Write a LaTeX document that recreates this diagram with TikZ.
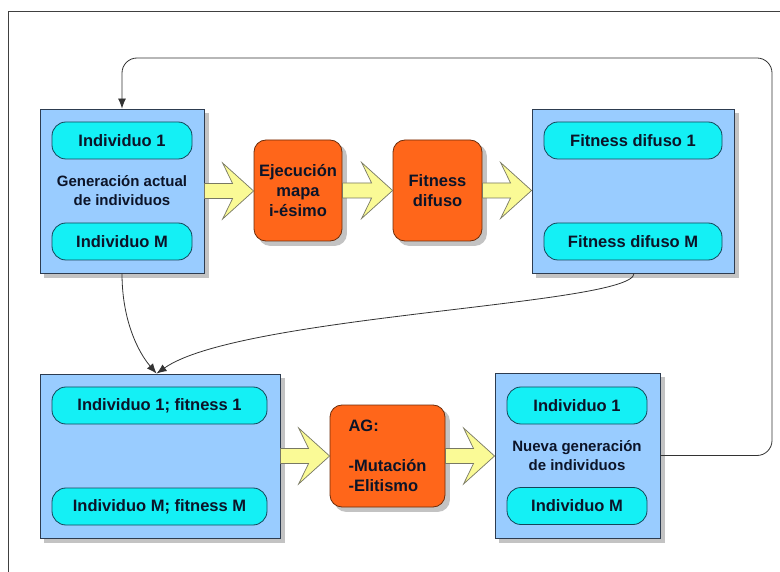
\documentclass[tikz,border=0pt]{standalone}
\usepackage{fontspec}
\setmainfont{Liberation Sans}
\usetikzlibrary{calc,arrows.meta,backgrounds}

\definecolor{boxblue}{RGB}{153,204,255}
\definecolor{boxedge}{RGB}{45,60,80}
\definecolor{pillcyan}{RGB}{20,240,245}
\definecolor{pilledge}{RGB}{20,70,90}
\definecolor{procorange}{RGB}{255,102,26}
\definecolor{procedge}{RGB}{110,45,10}
\definecolor{arrowyellow}{RGB}{250,250,150}
\definecolor{arrowedge}{RGB}{120,120,100}
\definecolor{inktext}{RGB}{12,20,40}
\definecolor{shadowgray}{RGB}{195,195,195}

\tikzset{
  x=1pt, y=-1pt,
  every node/.style={font=\fontsize{16.5}{20}\selectfont\bfseries, text=inktext},
  groupbox/.style={draw=boxedge, line width=0.9pt, fill=boxblue, inner sep=0pt},
  pill/.style={draw=pilledge, line width=0.8pt, fill=pillcyan, rounded corners=14pt,
    minimum height=37pt, inner sep=0pt},
  process/.style={draw=procedge, line width=0.8pt, fill=procorange, rounded corners=12pt,
    minimum width=88pt, minimum height=101pt, inner sep=0pt, align=center},
  grouplabel/.style={align=center, font=\fontsize{15}{19}\selectfont\bfseries},
  yarrow/.style={draw=arrowedge, line width=0.7pt, fill=arrowyellow, line join=miter},
  link/.style={draw=black!80, line width=0.8pt, -{Latex[length=10pt,width=8pt]}},
}

% block arrow from #1 to the tip #2 (same height)
\newcommand\yarr[2]{%
  \path[yarrow] let \p1=(#1), \p2=(#2) in
    (\x1,\y1+7.5pt) -- (\x2-21pt,\y1+7.5pt) -- (\x2-31pt,\y1+28pt) -- (\x2,\y1)
    -- (\x2-31pt,\y1-28pt) -- (\x2-21pt,\y1-7.5pt) -- (\x1,\y1-7.5pt) -- cycle;}

% grey drop shadow behind node #1, corner radius #2
\newcommand\shadowof[2]{%
  \fill[shadowgray, rounded corners=#2] ($(#1.north west)+(4.5,4.5)$) rectangle ($(#1.south east)+(4.5,4.5)$);}

\begin{document}
\begin{tikzpicture}
\useasboundingbox (0,0) rectangle (780,572);
\clip (0,0) rectangle (780,572);

% outer frame
\draw[black!75, line width=0.8pt] (8,11) rectangle (820,620);

% current generation
\node[groupbox, minimum width=164pt, minimum height=164pt] (A) at (122,191) {};
\node[pill, minimum width=140pt] (A1) at (122,140.5) {Individuo 1};
\node[pill, minimum width=140pt] (AM) at (122,241.5) {Individuo M};
\node[grouplabel] (Alab) at (122,191) {Generación actual\\de individuos};

% processing steps
\node[process] (E) at (298,190.5) {Ejecución\\mapa\\i-ésimo};
\node[process, minimum width=89pt] (F) at (437.5,190.5) {Fitness\\difuso};

% fuzzy fitness values
\node[groupbox, minimum width=202pt, minimum height=164pt] (B) at (633,191) {};
\node[pill, minimum width=178pt] (B1) at (633,140.5) {Fitness difuso 1};
\node[pill, minimum width=178pt] (BM) at (633,241.5) {Fitness difuso M};

% individuals with fitness
\node[groupbox, minimum width=240pt, minimum height=164pt] (C) at (160,456) {};
\node[pill, minimum width=215pt] (C1) at (159.5,405.5) {Individuo 1; fitness 1};
\node[pill, minimum width=215pt] (CM) at (159.5,506.5) {Individuo M; fitness M};

% genetic algorithm
\node[process, minimum width=115pt, minimum height=102pt] (AG) at (387.5,456) {};
\node[align=left] (AGtxt) at (AG) {AG:\\ \\-Mutación\\-Elitismo};

% new generation
\node[groupbox, minimum width=165pt, minimum height=165pt] (D) at (577.5,455.5) {};
\node[pill, minimum width=140pt] (D1) at (577,405.5) {Individuo 1};
\node[pill, minimum width=140pt] (DM) at (577,506) {Individuo M};
\node[grouplabel] (Dlab) at (577,456) {Nueva generación\\de individuos};

% drop shadows
\begin{pgfonlayer}{background}
  \fill[white] (0,0) rectangle (780,572);
  \shadowof{A}{0pt}
  \shadowof{B}{0pt}
  \shadowof{C}{0pt}
  \shadowof{D}{0pt}
  \shadowof{E}{12pt}
  \shadowof{F}{12pt}
  \shadowof{AG}{12pt}
\end{pgfonlayer}

% block arrows
\yarr{A.east}{E.west}
\yarr{E.east}{F.west}
\yarr{F.east}{B.west}
\yarr{C.east}{AG.west}
\yarr{AG.east}{D.west}

% connectors
\coordinate (Cin) at ($(C.north west)+(117,0)$);
\draw[link] (A.south) .. controls (122,320) and (138,352) .. (Cin);
\draw[link] ([xshift=1pt]B.south) .. controls (634,305) and (240,315) .. (Cin);
\draw[link, rounded corners=15pt] (D.east) -- (772,455.5) -- (772,58) -- (122,58) -- (A.north);
\end{tikzpicture}
\end{document}
